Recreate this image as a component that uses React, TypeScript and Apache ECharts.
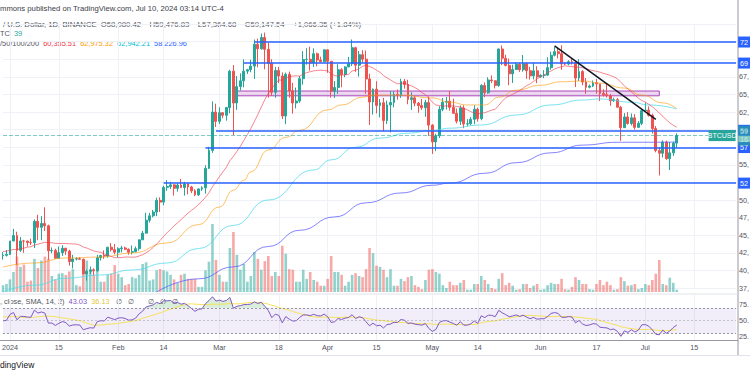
import React, { useEffect, useRef } from 'react';
import * as echarts from 'echarts';

const FONT = 'Liberation Sans, Arial, sans-serif';

// ---------- axis / categories ----------
const startDate = '2023-12-30';
const dayCount = 211;
const tickLabels: [string, string][] = [
  ['2024-01-01', '2024'], ['2024-01-15', '15'], ['2024-02-01', 'Feb'], ['2024-02-14', '14'],
  ['2024-03-01', 'Mar'], ['2024-03-18', '18'], ['2024-04-01', 'Apr'], ['2024-04-15', '15'],
  ['2024-05-01', 'May'], ['2024-05-14', '14'], ['2024-06-01', 'Jun'], ['2024-06-17', '17'],
  ['2024-07-01', 'Jul'], ['2024-07-15', '15'],
];
const hiddenPriceTicks = [75000, 72500, 70000, 60000, 57500, 52500];

// ---------- daily OHLC (Dec 30 2023 -> Jul 10 2024) ----------
const opens = [
  42070, 42140,
  42280, 44180, 44950, 42850, 44180, 44160, 43970, 43930, 46970, 46120, 46660, 46340, 42780, 42840, 41730, 42510, 43150, 42740, 41260, 41620, 41660, 41580, 39510, 39850, 40080, 39940, 41810, 42120, 42030, 43300, 42940,
  42580, 43080, 43190, 43000, 42580, 42660, 43090, 44340, 45290, 47130, 47750, 48290, 49960, 49700, 51790, 51910, 52150, 51660, 52120, 51780, 52260, 51850, 51300, 50730, 51570, 51730, 54490, 57050, 62490,
  61170, 62400, 62030, 63130, 68300, 63780, 66110, 66930, 68300, 68500, 69020, 72120, 71480, 73080, 71400, 69400, 65300, 68390, 67610, 61930, 67860, 65500, 63780, 64060, 67230, 69960, 69990, 69460, 70780, 69890, 69650,
  71330, 69700, 65450, 65980, 68510, 67840, 68900, 69360, 71630, 69150, 70640, 70010, 67200, 63920, 65740, 63430, 63810, 61280, 63510, 63840, 64990, 64930, 66840, 66410, 64290, 64510, 63760, 63420, 63110, 63840,
  60640, 58250, 59120, 62880, 63890, 64030, 63160, 62310, 61190, 63070, 60790, 60820, 61460, 62900, 61550, 66270, 65230, 67050, 66940, 66270, 71450, 70140, 69120, 67930, 68530, 69270, 68500, 69370, 68370, 67630, 68350,
  67490, 67720, 67740, 68800, 70560, 71070, 70790, 69340, 69310, 69650, 69510, 67320, 68240, 66760, 66010, 66190, 66640, 66490, 65150, 64960, 64830, 64100, 64250, 63180, 60280, 61800, 60860, 61670, 60320, 60890,
  62680, 62770, 62030, 60150, 57030, 56640, 58230, 55860, 56700, 58080.42,
];
const highs = [
  42600, 42900,
  44180, 45900, 45500, 44730, 44340, 44230, 44500, 47250, 47900, 47700, 48970, 46500, 43260, 43080, 43400, 43580, 43200, 42930, 42200, 41860, 41880, 41680, 40130, 40550, 40300, 42210, 42200, 42840, 43310, 43880, 43750,
  43290, 43490, 43380, 43120, 43540, 43400, 44370, 45600, 48200, 48170, 48590, 50330, 50370, 52040, 52820, 52570, 52230, 52350, 52990, 52580, 52380, 52010, 51540, 51680, 51960, 54940, 57550, 64000, 63680,
  63160, 62480, 63230, 68500, 69170, 67620, 67990, 69990, 68620, 69930, 72800, 72920, 73650, 73780, 72400, 70000, 68900, 68920, 68130, 68100, 68240, 66650, 65970, 67620, 71150, 71560, 71770, 71550, 70940, 70360, 71370,
  71340, 69710, 66900, 69300, 68720, 69000, 70330, 72800, 71760, 71170, 71280, 71230, 67930, 65840, 66870, 64360, 64500, 64120, 65450, 65420, 65700, 67230, 67200, 67080, 65300, 64800, 63920, 64370, 64230, 64700,
  60780, 59400, 63330, 64500, 64630, 65500, 64390, 62990, 63400, 63450, 61480, 61800, 63450, 63120, 66450, 66700, 67440, 67700, 67000, 71520, 71950, 70620, 70080, 69220, 69550, 69500, 70600, 69560, 68910, 69500, 69000,
  67860, 68440, 70280, 71060, 71740, 71620, 71990, 69580, 69850, 70150, 69560, 69990, 68450, 67310, 66400, 66970, 67200, 66500, 65730, 66480, 65070, 64520, 64500, 63370, 62350, 62480, 62290, 62200, 61200, 62890,
  63840, 63290, 62280, 60500, 57500, 58470, 58440, 58240, 58300, 59476.83,
];
const lows = [
  41520, 41960,
  42180, 44150, 40750, 42630, 42500, 43400, 43600, 43180, 44300, 44300, 45600, 41500, 42440, 41720, 41720, 42050, 42200, 40680, 40280, 41420, 41500, 39430, 38550, 39480, 39260, 39820, 41400, 41640, 41800, 42690, 42280,
  41880, 42570, 42880, 42220, 42260, 42570, 42790, 44330, 45240, 46800, 47540, 47710, 48300, 49260, 51310, 51560, 50620, 51180, 51690, 50620, 50800, 50980, 50550, 50580, 51290, 50900, 54430, 56690, 60370,
  60790, 61610, 61270, 62300, 59220, 62800, 65560, 66000, 67900, 68150, 67190, 68850, 71330, 68560, 64540, 64780, 64520, 66600, 61500, 60770, 64530, 62260, 63000, 63790, 66380, 69220, 68380, 68900, 69000, 69560, 69560,
  68060, 64550, 64500, 65070, 66010, 67450, 68900, 69040, 68210, 67520, 69570, 65090, 60660, 62130, 62300, 61720, 59770, 60810, 59600, 63170, 64250, 64500, 65820, 63600, 62800, 63310, 62400, 62800, 61800, 59100,
  56550, 56940, 58820, 62600, 62850, 62700, 62250, 60880, 60650, 60200, 60460, 60630, 60760, 61140, 61320, 64600, 65110, 66600, 65850, 66080, 69160, 68980, 66300, 66620, 68500, 68200, 68220, 67200, 67100, 67120, 66600,
  67380, 67300, 67600, 68500, 70390, 70120, 68500, 69180, 69130, 69230, 66050, 66900, 66300, 65080, 65850, 66040, 65100, 64060, 64700, 64550, 63380, 63930, 63180, 58400, 60240, 60700, 60590, 60000, 60290, 60630,
  62520, 61830, 59450, 56770, 53480, 56020, 55720, 54260, 56270, 57364.68,
];
const closes = [
  42140, 42280,
  44180, 44950, 42850, 44180, 44160, 43970, 43930, 46970, 46120, 46660, 46340, 42780, 42840, 41730, 42510, 43150, 42740, 41260, 41620, 41660, 41580, 39510, 39850, 40080, 39940, 41810, 42120, 42030, 43300, 42940, 42580,
  43080, 43190, 43000, 42580, 42660, 43090, 44340, 45290, 47130, 47750, 48290, 49960, 49700, 51790, 51910, 52150, 51660, 52120, 51780, 52260, 51850, 51300, 50730, 51570, 51730, 54490, 57050, 62490, 61170,
  62400, 62030, 63130, 68300, 63780, 66110, 66930, 68300, 68500, 69020, 72120, 71480, 73080, 71400, 69400, 65300, 68390, 67610, 61930, 67860, 65500, 63780, 64060, 67230, 69960, 69990, 69460, 70780, 69890, 69650, 71330,
  69700, 65450, 65980, 68510, 67840, 68900, 69360, 71630, 69150, 70640, 70010, 67200, 63920, 65740, 63430, 63810, 61280, 63510, 63840, 64990, 64930, 66840, 66410, 64290, 64510, 63760, 63420, 63110, 63840, 60640,
  58250, 59120, 62880, 63890, 64030, 63160, 62310, 61190, 63070, 60790, 60820, 61460, 62900, 61550, 66270, 65230, 67050, 66940, 66270, 71450, 70140, 69120, 67930, 68530, 69270, 68500, 69370, 68370, 67630, 68350, 67490,
  67720, 67740, 68800, 70560, 71070, 70790, 69340, 69310, 69650, 69510, 67320, 68240, 66760, 66010, 66190, 66640, 66490, 65150, 64960, 64830, 64100, 64250, 63180, 60280, 61800, 60860, 61670, 60320, 60890, 62680,
  62770, 62030, 60150, 57030, 56640, 58230, 55860, 56700, 58080.42, 59147.54,
];
// volume, thousand BTC
const volumes = [
  12, 14,
  22, 35, 62, 44, 48, 18, 20, 58, 42, 55, 62, 58, 28, 22, 32, 33, 30, 36, 40, 12, 10, 52, 55, 35, 30, 42, 18, 18, 30, 32, 47,
  32, 26, 12, 14, 26, 24, 30, 49, 52, 20, 22, 38, 40, 38, 36, 30, 22, 16, 30, 32, 23, 23, 23, 9, 9, 38, 53, 119, 56,
  30, 18, 18, 77, 105, 65, 39, 49, 18, 28, 70, 58, 39, 54, 63, 28, 35, 28, 81, 67, 40, 39, 18, 18, 39, 23, 35, 21, 18, 11, 11,
  23, 63, 35, 35, 30, 11, 18, 30, 33, 28, 26, 40, 77, 68, 46, 44, 39, 26, 40, 11, 11, 23, 19, 26, 28, 12, 9, 5, 21, 39,
  40, 35, 32, 12, 7, 18, 12, 12, 16, 21, 4, 4, 14, 14, 28, 21, 14, 7, 5, 23, 33, 12, 16, 11, 4, 5, 14, 14, 7, 11, 14,
  4, 5, 12, 16, 14, 14, 23, 5, 4, 9, 26, 21, 14, 14, 5, 4, 14, 21, 12, 18, 12, 4, 5, 26, 19, 11, 12, 14, 5, 7,
  14, 12, 21, 32, 56, 14, 12, 25, 16, 4,
];
// closes of Nov 10 - Dec 29 2023 (needed for SMA20 / RSI warm-up)
const priorCloses = [
  37300, 37130, 37060, 36500, 35550, 37880, 36160, 36600, 36570, 37360, 37450, 35760, 37420, 37290, 37720, 37790, 37450, 37240, 37830, 37850, 37720,
  38690, 39470, 39980, 41990, 44080, 43770, 43290, 44170, 43720, 43790, 41240, 41450, 42890, 43020, 41940, 42260, 41370, 42660, 42270, 43650, 43860, 43990, 43720, 43010, 43580, 42510, 43440, 42580, 42070,
];

// ---------- moving averages (50 / 100 / 200) ----------
const ma50Knots: [string, number][] = [
  ['2023-12-30', 40480], ['2024-01-08', 41050], ['2024-01-17', 41760], ['2024-01-27', 41900], ['2024-02-05', 42470],
  ['2024-02-15', 43900], ['2024-02-24', 46500], ['2024-03-01', 49000], ['2024-03-05', 51400], ['2024-03-08', 52800],
  ['2024-03-10', 54000], ['2024-03-15', 57100], ['2024-03-20', 58900], ['2024-03-24', 59900], ['2024-04-01', 62800],
  ['2024-04-05', 63500], ['2024-04-11', 64600], ['2024-04-14', 64900], ['2024-04-22', 64900], ['2024-05-01', 64500],
  ['2024-05-06', 63900], ['2024-05-11', 63500], ['2024-05-16', 63500], ['2024-05-20', 64600], ['2024-05-25', 65600],
  ['2024-06-01', 66300], ['2024-06-07', 66800], ['2024-06-13', 66900], ['2024-06-18', 66600], ['2024-06-25', 65900],
  ['2024-06-30', 64900], ['2024-07-06', 63800], ['2024-07-10', 62975.32],
];
const ma100Knots: [string, number][] = [
  ['2023-12-30', 36930], ['2024-01-08', 37900], ['2024-01-17', 38900], ['2024-01-27', 39350], ['2024-02-05', 40060],
  ['2024-02-15', 41050], ['2024-02-24', 43100], ['2024-03-05', 46400], ['2024-03-15', 50000], ['2024-03-28', 54260],
  ['2024-04-02', 55700], ['2024-04-09', 57500], ['2024-04-16', 58800], ['2024-04-24', 59500], ['2024-05-01', 59900],
  ['2024-05-06', 60200], ['2024-05-15', 60650], ['2024-05-25', 62070], ['2024-06-04', 63500], ['2024-06-13', 64200],
  ['2024-06-18', 64350], ['2024-06-27', 63900], ['2024-07-02', 63500], ['2024-07-10', 62942.21],
];
const ma200Knots: [string, number][] = [
  ['2024-02-12', 36930], ['2024-02-24', 38800], ['2024-03-05', 40500], ['2024-03-15', 43400], ['2024-03-24', 45700],
  ['2024-04-03', 47600], ['2024-04-12', 49600], ['2024-04-22', 51000], ['2024-05-01', 52100], ['2024-05-06', 52400],
  ['2024-05-16', 53800], ['2024-05-25', 55300], ['2024-06-04', 56700], ['2024-06-13', 57800], ['2024-06-23', 58200],
  ['2024-07-02', 58200], ['2024-07-10', 58226.96],
];

// ---------- drawings ----------
const levelPrices = [72440, 69450, 59900, 57450, 52400];
const levelStarts = ['2024-03-11', '2024-03-08', '2024-02-29', '2024-02-26', '2024-02-14'];
const zoneDates = ['2024-03-05', '2024-07-05'];
const zonePrices = [64800, 65480];
const trendDates = ['2024-06-05', '2024-07-04'];
const trendPrices = [71900, 61460];
const lastPrice = 59147.54;
const countdown = '16:45:52';

// ---------- helpers ----------
const cats: string[] = [];
{
  const t0 = Date.parse(startDate + 'T00:00:00Z');
  for (let i = 0; i < dayCount; i++) cats.push(new Date(t0 + i * 86400000).toISOString().slice(0, 10));
}
const labelMap: Record<string, string> = {};
tickLabels.forEach(([d, t]) => (labelMap[d] = t));
// the reference is cropped at its right edge: only the start of each price label is visible
const thousands = (v: number) => String(Math.floor(v / 1000));

function knotData(knots: [string, number][]) {
  const arr: any[] = cats.map(() => '-');
  knots.forEach(([d, v]) => { arr[cats.indexOf(d)] = v; });
  return arr;
}

const allCloses = priorCloses.concat(closes);
const P = priorCloses.length;
const ma20 = closes.map((_, i) => {
  let s = 0;
  for (let k = 0; k < 20; k++) s += allCloses[P + i - k];
  return +(s / 20).toFixed(2);
});
function wilderRSI(src: number[], n: number) {
  const out: number[] = new Array(src.length).fill(NaN);
  let ag = 0, al = 0;
  for (let i = 1; i < src.length; i++) {
    const ch = src[i] - src[i - 1];
    const g = Math.max(ch, 0), l = Math.max(-ch, 0);
    if (i <= n) {
      ag += g / n; al += l / n;
      if (i === n) out[i] = 100 - 100 / (1 + ag / al);
    } else {
      ag = (ag * (n - 1) + g) / n; al = (al * (n - 1) + l) / n;
      out[i] = 100 - 100 / (1 + ag / al);
    }
  }
  return out;
}
const rsiAll = wilderRSI(allCloses, 14);
const rsi = closes.map((_, i) => +rsiAll[P + i].toFixed(2));
const rsiMa = closes.map((_, i) => {
  let s = 0;
  for (let k = 0; k < 14; k++) s += rsiAll[P + i - k];
  return +(s / 14).toFixed(2);
});

const UP = '#26a69a';
const DOWN = '#ef5350';
const GRID = '#eef1f6';
const TXT = '#50535e';
const AX = 7.2;

function buildOption(): any {
  const candleData = opens.map((o, i) => [o, closes[i], lows[i], highs[i]]);
  const volData = volumes.map((v, i) => ({
    value: v,
    itemStyle: { color: closes[i] >= opens[i] ? 'rgba(38,166,154,0.5)' : 'rgba(239,83,80,0.5)' },
  }));
  const last = cats[dayCount - 1];
  const blueLabel = (p: number) => ({
    show: true, position: 'end', distance: 2, formatter: thousands(p), color: '#fff', backgroundColor: '#2962ff',
    padding: [2, 3, 2, 2], fontSize: AX, fontFamily: FONT,
  });
  const levelLines = levelPrices.map((p, k) => [
    { coord: [levelStarts[k], p], lineStyle: { color: '#2962ff', width: 1.5, type: 'solid' }, label: blueLabel(p) },
    { coord: [last, p] },
  ]);
  const splitInterval = (_i: number, v: string) => labelMap[v] !== undefined;
  const xAxisBase = (gridIndex: number, labels: boolean, split: boolean) => ({
    type: 'category', gridIndex, data: cats, boundaryGap: false,
    axisLine: { show: false }, axisTick: { show: false },
    axisLabel: labels
      ? { show: true, interval: splitInterval, formatter: (v: string) => labelMap[v] || '', fontSize: AX, color: TXT, margin: 4, fontFamily: FONT }
      : { show: false },
    splitLine: { show: split, interval: splitInterval, lineStyle: { color: GRID, width: 1 } },
  });
  const gridPos = { left: 3, right: 13.9, containLabel: false, outerBoundsMode: 'none' };
  const lineS = (name: string, data: any[], color: string, opacity: number, knots: boolean) => ({
    name, type: 'line', xAxisIndex: 0, yAxisIndex: 0, data, symbol: 'none', connectNulls: true,
    smooth: knots ? 0.5 : false, smoothMonotone: knots ? 'x' : undefined, clip: false,
    lineStyle: { color, width: 1, opacity }, z: 4, silent: true,
  });
  const richText = (text: string, x: number, y: number, size: number, rich: Record<string, string>) => {
    const r: any = {};
    Object.keys(rich).forEach((k) => { r[k] = { fill: rich[k], fontSize: size, fontFamily: FONT }; });
    return {
      type: 'text', silent: true, x, y,
      style: { text, fontSize: size, fontFamily: FONT, verticalAlign: 'middle', fill: TXT, rich: r },
    };
  };

  return {
    animation: false,
    backgroundColor: '#ffffff',
    grid: [
      { ...gridPos, top: 24, height: 264 },
      { ...gridPos, top: 212, height: 80 },
      { ...gridPos, top: 295, height: 45 },
    ],
    xAxis: [xAxisBase(0, false, true), xAxisBase(1, false, false), xAxisBase(2, true, true)],
    yAxis: [
      {
        type: 'value', gridIndex: 0, position: 'right', min: 37500, max: 75000, interval: 2500, scale: true,
        axisLine: { show: false }, axisTick: { show: false },
        axisLabel: {
          margin: 3, fontSize: AX, color: TXT, fontFamily: FONT,
          formatter: (v: number) => (hiddenPriceTicks.includes(v) ? '' : thousands(v) + ','),
        },
        splitLine: { lineStyle: { color: GRID, width: 1 } },
      },
      { type: 'value', gridIndex: 1, min: 0, max: 140, show: false },
      {
        type: 'value', gridIndex: 2, position: 'right', min: 20, max: 90, interval: 5,
        axisLine: { show: false }, axisTick: { show: false }, splitLine: { show: false },
        axisLabel: {
          margin: 3, fontSize: AX, color: TXT, fontFamily: FONT,
          formatter: (v: number) => (v === 25 || v === 50 || v === 75 ? v + '.' : ''),
        },
      },
    ],
    series: [
      {
        name: 'volume', type: 'bar', xAxisIndex: 1, yAxisIndex: 1, data: volData, barWidth: 2.6, z: 1, silent: true,
      },
      {
        name: 'BTCUSD', type: 'candlestick', xAxisIndex: 0, yAxisIndex: 0, data: candleData, barWidth: 2.4, z: 3,
        clip: false, silent: true,
        itemStyle: { color: UP, color0: DOWN, borderColor: UP, borderColor0: DOWN, borderWidth: 1 },
        markArea: {
          silent: true,
          data: [[
            { xAxis: zoneDates[0], yAxis: zonePrices[1], itemStyle: { color: 'rgba(206,147,216,0.35)', borderColor: '#ab47bc', borderWidth: 1 } },
            { xAxis: zoneDates[1], yAxis: zonePrices[0] },
          ]],
        },
        markLine: {
          silent: true, symbol: ['none', 'none'], label: { show: false },
          data: [
            ...levelLines,
            [
              { coord: [trendDates[0], trendPrices[0]], lineStyle: { color: '#131722', width: 1.5, type: 'solid' } },
              { coord: [trendDates[1], trendPrices[1]] },
            ],
            {
              yAxis: lastPrice, lineStyle: { color: UP, width: 1, type: 'dashed', opacity: 0.6 },
              label: {
                show: true, position: 'end', distance: 2, formatter: thousands(lastPrice) + '\n' + countdown.slice(0, 2),
                color: '#fff', backgroundColor: UP, padding: [2, 3, 1, 2], fontSize: AX, lineHeight: 8.5, fontFamily: FONT,
              },
            },
          ],
        },
        markPoint: {
          silent: true,
          data: [{
            coord: [last, lastPrice], symbol: 'rect', symbolSize: [27, 11], symbolOffset: [-14, 0],
            itemStyle: { color: UP },
            label: { show: true, formatter: 'BTCUSD', color: '#fff', fontSize: 7, fontFamily: FONT, position: 'inside' },
          }],
        },
      },
      lineS('MA200', knotData(ma200Knots), '#5b5bff', 0.75, true),
      lineS('MA100', knotData(ma100Knots), '#4dd9ec', 0.75, true),
      lineS('MA50', knotData(ma50Knots), '#ff9800', 0.6, true),
      lineS('MA20', ma20, '#f23645', 0.6, false),
      // RSI pane
      {
        name: 'obBase', type: 'line', xAxisIndex: 2, yAxisIndex: 2, stack: 'ob', data: rsi.map(() => 70),
        symbol: 'none', lineStyle: { opacity: 0 }, silent: true, z: 1,
      },
      {
        name: 'obFill', type: 'line', xAxisIndex: 2, yAxisIndex: 2, stack: 'ob', data: rsi.map((v) => Math.max(v - 70, 0)),
        symbol: 'none', lineStyle: { opacity: 0 }, areaStyle: { color: 'rgba(76,175,80,0.3)' }, silent: true, z: 1,
      },
      {
        name: 'osBase', type: 'line', xAxisIndex: 2, yAxisIndex: 2, stack: 'os', data: rsi.map((v) => Math.min(v, 30)),
        symbol: 'none', lineStyle: { opacity: 0 }, silent: true, z: 1,
      },
      {
        name: 'osFill', type: 'line', xAxisIndex: 2, yAxisIndex: 2, stack: 'os', data: rsi.map((v) => 30 - Math.min(v, 30)),
        symbol: 'none', lineStyle: { opacity: 0 }, areaStyle: { color: 'rgba(242,54,69,0.25)' }, silent: true, z: 1,
      },
      {
        name: 'RSI', type: 'line', xAxisIndex: 2, yAxisIndex: 2, data: rsi, symbol: 'none',
        lineStyle: { color: '#7e57c2', width: 1 }, z: 3, silent: true,
        markArea: { silent: true, data: [[{ yAxis: 30, itemStyle: { color: 'rgba(126,87,194,0.1)' } }, { yAxis: 70 }]] },
        markLine: {
          silent: true, symbol: ['none', 'none'], label: { show: false },
          lineStyle: { color: '#9598a1', type: [2, 2], width: 1 },
          data: [{ yAxis: 70 }, { yAxis: 50, lineStyle: { opacity: 0.5 } }, { yAxis: 30 }],
        },
      },
      {
        name: 'RSI MA', type: 'line', xAxisIndex: 2, yAxisIndex: 2, data: rsiMa, symbol: 'none',
        lineStyle: { color: '#f5e15b', width: 1 }, z: 2, silent: true,
      },
    ],
    graphic: [
      { type: 'line', silent: true, shape: { x1: 738, y1: 0, x2: 738, y2: 355 }, style: { stroke: '#9598a1', lineWidth: 1 } },
      { type: 'line', silent: true, shape: { x1: 0, y1: 340.5, x2: 738, y2: 340.5 }, style: { stroke: '#9598a1', lineWidth: 1 } },
      { type: 'line', silent: true, shape: { x1: 0, y1: 294, x2: 738, y2: 294 }, style: { stroke: '#e0e3eb', lineWidth: 1 } },
      { type: 'line', silent: true, shape: { x1: 0, y1: 355.5, x2: 750, y2: 355.5 }, style: { stroke: '#e0e3eb', lineWidth: 1 } },
      richText('{h|mmons published on TradingView.com, Jul 10, 2024 03:14 UTC-4}', 0, 8, 7.7, { h: '#3b3e48' }),
      richText(
        '{g|/ U.S. Dollar, 1D, BINANCE}  {g|O}{v|58,080.42}    {g|H}{v|59,476.83}    {g|L}{v|57,364.68}    {g|C}{v|59,147.54}    {v|+1,066.35 (+1.84%)}',
        3, 24, 7.7, { g: TXT, v: '#5d606b' },
      ),
      richText('{g|TC}  {t|39}', 0, 33, 7.4, { g: TXT, t: UP }),
      richText('{g|/50/100/200}  {r|60,355.51}  {o|62,975.32}  {c|62,942.21}  {b|58,226.96}', 0, 43, 7.4,
        { g: TXT, r: '#f23645', o: '#ff9800', c: '#00bcd4', b: '#2962ff' }),
      richText('{g|, close, SMA, 14, 2)}  {p|43.03}  {y|36.13}   {g|\u2205   \u2205}', 0, 301, 7.4,
        { g: TXT, p: '#7e57c2', y: '#e0c93a' }),
      richText('{g|\u2205   \u2205   \u2205}', 148, 301, 7.4, { g: TXT }),
      richText('{k|dingView}', 0, 365, 8.5, { k: '#131722' }),
    ],
  };
}

export default function App() {
  const ref = useRef<HTMLDivElement>(null);
  useEffect(() => {
    if (!ref.current) return;
    const chart = echarts.init(ref.current, undefined, { renderer: 'svg' });
    chart.setOption(buildOption());
    return () => chart.dispose();
  }, []);
  return (
    <div
      ref={ref}
      style={{ position: 'absolute', left: 0, top: 0, width: 750, height: 375, background: '#ffffff' }}
    />
  );
}
